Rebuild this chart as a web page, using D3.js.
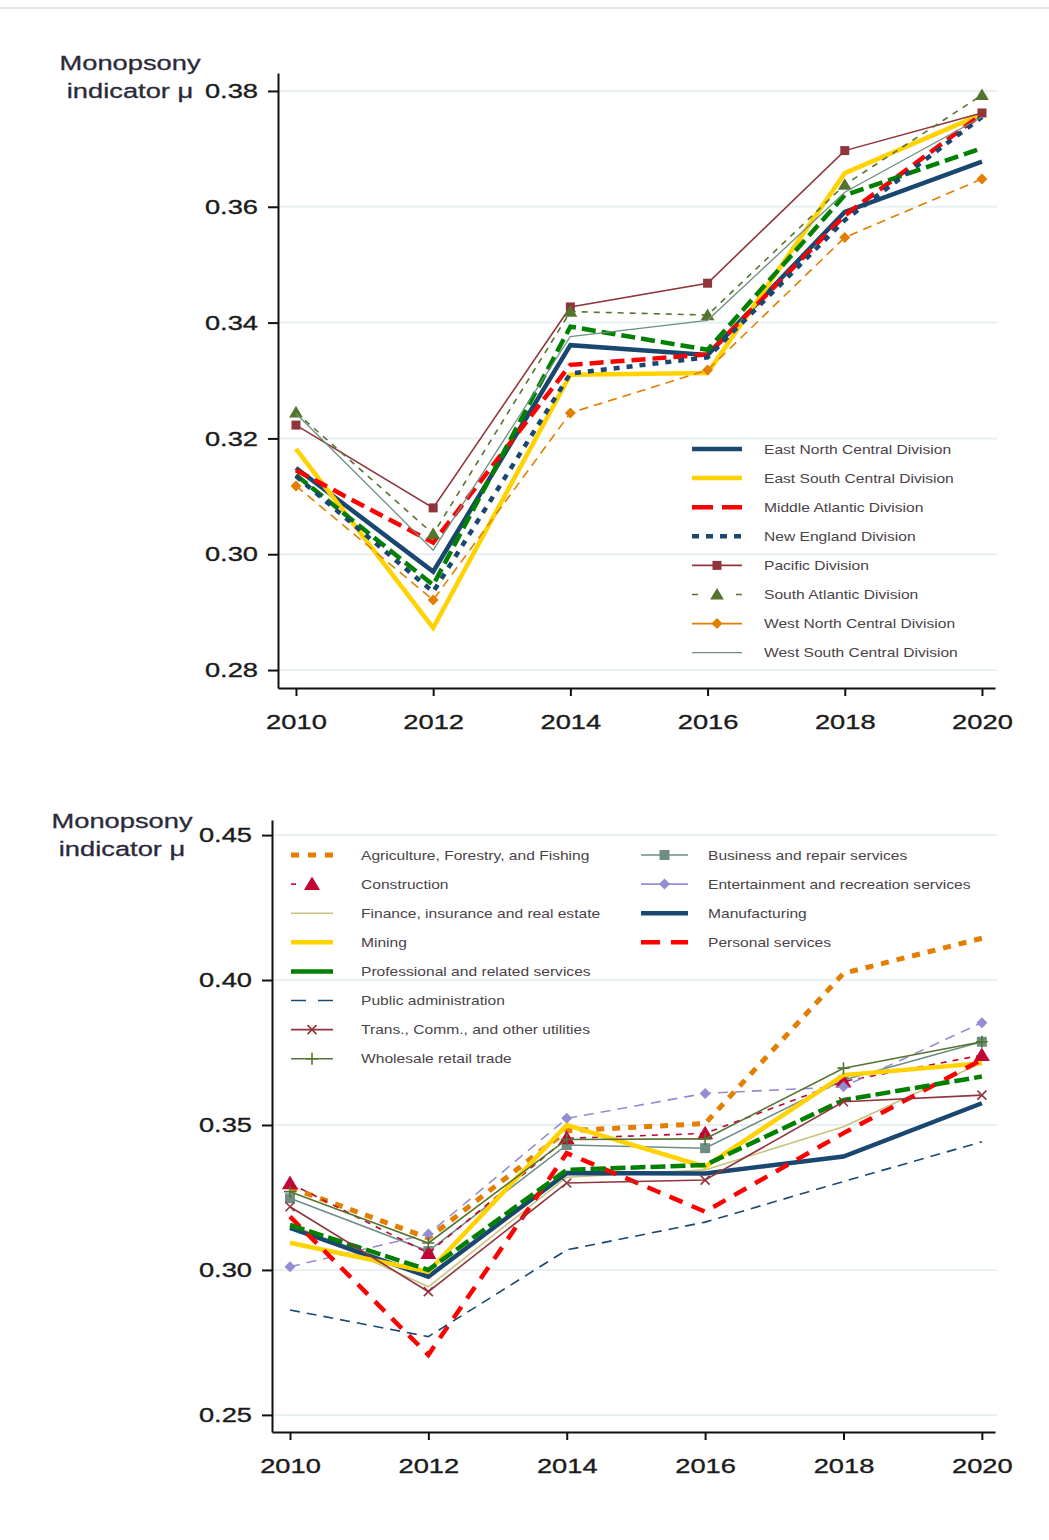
<!DOCTYPE html>
<html>
<head>
<meta charset="utf-8">
<script src="https://cdn.jsdelivr.net/npm/d3@7"></script>
<style>
  body { margin: 0; background: #fff; }
  svg text { font-family: Arial, "Liberation Sans", sans-serif; }
</style>
</head>
<body>
<svg id="chart" width="1049" height="1540"></svg>
<script>
var years = [2010, 2012, 2014, 2016, 2018, 2020];

// top panel: census divisions
var divisionTicks = [0.28, 0.30, 0.32, 0.34, 0.36, 0.38];
var eastNorthCentral = [0.3149, 0.2970, 0.3361, 0.3344, 0.3591, 0.3678];
var eastSouthCentral = [0.3182, 0.2873, 0.3310, 0.3313, 0.3658, 0.3760];
var middleAtlantic   = [0.3145, 0.3020, 0.3327, 0.3345, 0.3585, 0.3760];
var mountain         = [0.3137, 0.2947, 0.3393, 0.3353, 0.3620, 0.3701];
var newEngland       = [0.3135, 0.2935, 0.3312, 0.3340, 0.3577, 0.3755];
var pacific          = [0.3223, 0.3080, 0.3427, 0.3468, 0.3697, 0.3762];
var southAtlantic    = [0.3245, 0.3035, 0.3419, 0.3413, 0.3638, 0.3793];
var westNorthCentral = [0.3118, 0.2921, 0.3244, 0.3318, 0.3547, 0.3648];
var westSouthCentral = [0.3243, 0.3007, 0.3376, 0.3404, 0.3625, 0.3755];

// bottom panel: industries
var industryTicks = [0.25, 0.30, 0.35, 0.40, 0.45];
var agriculture   = [0.3285, 0.3110, 0.3480, 0.3505, 0.4023, 0.4144];
var business      = [0.3247, 0.3065, 0.3431, 0.3420, 0.3655, 0.3787];
var construction  = [0.3299, 0.3058, 0.3454, 0.3471, 0.3650, 0.3741];
var entertainment = [0.3011, 0.3124, 0.3523, 0.3609, 0.3632, 0.3853];
var finance       = [0.3160, 0.2942, 0.3320, 0.3345, 0.3494, 0.3715];
var manufacturing = [0.3145, 0.2977, 0.3334, 0.3333, 0.3391, 0.3575];
var mining        = [0.3094, 0.2994, 0.3500, 0.3356, 0.3672, 0.3713];
var personal      = [0.3184, 0.2707, 0.3403, 0.3201, 0.3472, 0.3725];
var professional  = [0.3155, 0.3000, 0.3345, 0.3362, 0.3586, 0.3667];
var publicAdmin   = [0.2862, 0.2770, 0.3069, 0.3165, 0.3305, 0.3442];
var transComm     = [0.3218, 0.2925, 0.3300, 0.3310, 0.3580, 0.3603];
var wholesale     = [0.3270, 0.3093, 0.3450, 0.3452, 0.3696, 0.3787];

var SX = 1.3;   // the source picture is stretched sideways
var svg = d3.select("#chart");

svg.append("line")
  .attr("x1",0).attr("x2",1049)
  .attr("y1",8).attr("y2",8)
  .style("stroke","#e3e8ea")
  .style("stroke-width",2);

function markerPath(type, s) {
  var h = s/2;
  if (type == "square") return "M"+(-h)+","+(-h)+"h"+s+"v"+s+"h"+(-s)+"z";
  if (type == "triangle") return "M0,"+(-h*1.1)+"L"+(h*1.15)+","+(h*0.85)+"L"+(-h*1.15)+","+(h*0.85)+"z";
  if (type == "diamond") return "M0,"+(-h)+"L"+h+",0L0,"+h+"L"+(-h)+",0z";
  if (type == "x") return "M"+(-h)+","+(-h)+"L"+h+","+h+"M"+(-h)+","+h+"L"+h+","+(-h);
  if (type == "plus") return "M"+(-h)+",0H"+h+"M0,"+(-h)+"V"+h;
  return "";
}

function drawMarker(g, s, x, y) {
  var stroked = (s.marker == "x" || s.marker == "plus");
  g.append("path")
    .attr("transform","translate("+x+","+y+")")
    .attr("d", markerPath(s.marker, s.msize))
    .style("fill", stroked ? "none" : s.color)
    .style("stroke", s.color)
    .style("stroke-width", stroked ? 1.6 : 0);
}

function drawPanel(p) {
  var g = svg.append("g");

  // grid
  g.selectAll("line.grid")
    .data(p.ticks)
    .enter().append("line")
      .attr("class","grid")
      .attr("x1",p.x.range()[0]).attr("x2",997)
      .attr("y1",function(d) { return p.y(d); })
      .attr("y2",function(d) { return p.y(d); })
      .style("stroke","#e8f0f2")
      .style("stroke-width",2);

  // axes
  var ya = g.append("g")
    .attr("transform","translate("+p.x.range()[0]+",0)")
    .call(d3.axisLeft(p.y).tickValues(p.ticks).tickSize(10).tickSizeOuter(0)
      .tickFormat(d3.format(".2f")));
  var xa = g.append("g")
    .attr("transform","translate(0,"+p.y.range()[0]+")")
    .call(d3.axisBottom(p.x).tickValues(years).tickSize(8).tickSizeOuter(0)
      .tickFormat(d3.format("d")));
  [ya, xa].forEach(function(a) {
    a.select(".domain").style("stroke","#111").style("stroke-width",2);
    a.selectAll(".tick line").style("stroke","#111").style("stroke-width",2);
    a.selectAll("text")
      .style("font-size","21px")
      .style("fill","#1b1b1b")
      .style("stroke","#1b1b1b")
      .style("stroke-width",0.35);
  });
  ya.selectAll("text")
    .attr("x",-20/SX)
    .attr("transform","scale("+SX+",1)");
  xa.selectAll("text")
    .attr("y",26)
    .attr("transform","scale("+SX+",1)");

  // axis title
  p.title.forEach(function(t, i) {
    g.append("text")
      .attr("transform","translate("+p.titleX+","+(p.titleY+i*28)+") scale("+SX+",1)")
      .attr("text-anchor","middle")
      .style("font-size","21px")
      .style("fill","#2a2a3a")
      .style("stroke","#2a2a3a")
      .style("stroke-width",0.3)
      .text(t);
  });

  // series
  var line = d3.line()
    .x(function(d, i) { return p.x(years[i]); })
    .y(function(d) { return p.y(d); });
  p.series.forEach(function(s) {
    g.append("path")
      .datum(s.values)
      .attr("d", line)
      .style("fill","none")
      .style("stroke", s.color)
      .style("stroke-width", s.width)
      .style("stroke-dasharray", s.dash || null);
    if (s.marker) {
      s.values.forEach(function(v, i) {
        drawMarker(g, s, p.x(years[i]), p.y(v));
      });
    }
  });

  // legend
  p.legend.forEach(function(col) {
    col.names.forEach(function(name, r) {
      var s = p.series.filter(function(d) { return d.name == name; })[0];
      var ly = col.y + r*29.1;
      g.append("line")
        .attr("x1",col.x1).attr("x2",col.x2)
        .attr("y1",ly).attr("y2",ly)
        .style("stroke", s.color)
        .style("stroke-width", s.width)
        .style("stroke-dasharray", s.legendDash || null);
      if (s.marker) drawMarker(g, s, (col.x1+col.x2)/2, ly);
      g.append("text")
        .attr("transform","translate("+col.tx+","+(ly+4.5)+") scale("+SX+",1)")
        .style("font-size","12px")
        .style("fill","#4a4348")
        .text(name);
    });
  });
}

// top panel
var topSeries = [
  {name:"East North Central Division", values:eastNorthCentral, color:"#1a476f", width:4.5},
  {name:"East South Central Division", values:eastSouthCentral, color:"#ffd200", width:4.5},
  {name:"Middle Atlantic Division", values:middleAtlantic, color:"#ff0000", width:4.5, dash:"14,7", legendDash:"21,9"},
  {name:"Mountain Division", values:mountain, color:"#008000", width:4.5, dash:"14,6"},
  {name:"New England Division", values:newEngland, color:"#1a476f", width:4.5, dash:"6,7", legendDash:"7,7"},
  {name:"Pacific Division", values:pacific, color:"#90353b", width:1.6, marker:"square", msize:9},
  {name:"South Atlantic Division", values:southAtlantic, color:"#55752f", width:1.6, dash:"6,6", legendDash:"6,38", marker:"triangle", msize:12},
  {name:"West North Central Division", values:westNorthCentral, color:"#e37e00", width:1.6, dash:"9,6", marker:"diamond", msize:11},
  {name:"West South Central Division", values:westSouthCentral, color:"#6e8e84", width:1.3}
];

drawPanel({
  x: d3.scaleLinear().domain([2009.738, 2020.19]).range([278, 995]),
  y: d3.scaleLinear().domain([0.2769, 0.3831]).range([688, 73]),
  ticks: divisionTicks,
  title: ["Monopsony", "indicator \u03bc"],
  titleX: 130, titleY: 70,
  series: topSeries,
  legend: [
    {x1:692, x2:742, tx:764, y:449,
     names:["East North Central Division","East South Central Division","Middle Atlantic Division",
            "New England Division","Pacific Division","South Atlantic Division",
            "West North Central Division","West South Central Division"]}
  ]
});

// bottom panel
var bottomSeries = [
  {name:"Agriculture, Forestry, and Fishing", values:agriculture, color:"#e37e00", width:5, dash:"8,8", legendDash:"8,9"},
  {name:"Business and repair services", values:business, color:"#6e8e84", width:1.6, marker:"square", msize:10},
  {name:"Construction", values:construction, color:"#c10534", width:1.6, dash:"6,6", legendDash:"5,40", marker:"triangle", msize:14},
  {name:"Entertainment and recreation services", values:entertainment, color:"#938dd2", width:1.6, dash:"10,7", legendDash:null, marker:"diamond", msize:11},
  {name:"Finance, insurance and real estate", values:finance, color:"#cac27e", width:1.6},
  {name:"Manufacturing", values:manufacturing, color:"#1a476f", width:4.5},
  {name:"Mining", values:mining, color:"#ffd200", width:4.5},
  {name:"Personal services", values:personal, color:"#ff0000", width:4.5, dash:"14,10", legendDash:"19,11"},
  {name:"Professional and related services", values:professional, color:"#008000", width:4.5, dash:"15,5", legendDash:null},
  {name:"Public administration", values:publicAdmin, color:"#1a476f", width:1.6, dash:"10,7", legendDash:"15,12"},
  {name:"Trans., Comm., and other utilities", values:transComm, color:"#90353b", width:1.6, marker:"x", msize:9},
  {name:"Wholesale retail trade", values:wholesale, color:"#55752f", width:1.6, marker:"plus", msize:12}
];

drawPanel({
  x: d3.scaleLinear().domain([2009.74, 2020.19]).range([272, 995]),
  y: d3.scaleLinear().domain([0.2441, 0.4552]).range([1432, 820]),
  ticks: industryTicks,
  title: ["Monopsony", "indicator \u03bc"],
  titleX: 122, titleY: 828,
  series: bottomSeries,
  legend: [
    {x1:291, x2:333, tx:361, y:855,
     names:["Agriculture, Forestry, and Fishing","Construction","Finance, insurance and real estate",
            "Mining","Professional and related services","Public administration",
            "Trans., Comm., and other utilities","Wholesale retail trade"]},
    {x1:641, x2:688, tx:708, y:855,
     names:["Business and repair services","Entertainment and recreation services",
            "Manufacturing","Personal services"]}
  ]
});
</script>
</body>
</html>
